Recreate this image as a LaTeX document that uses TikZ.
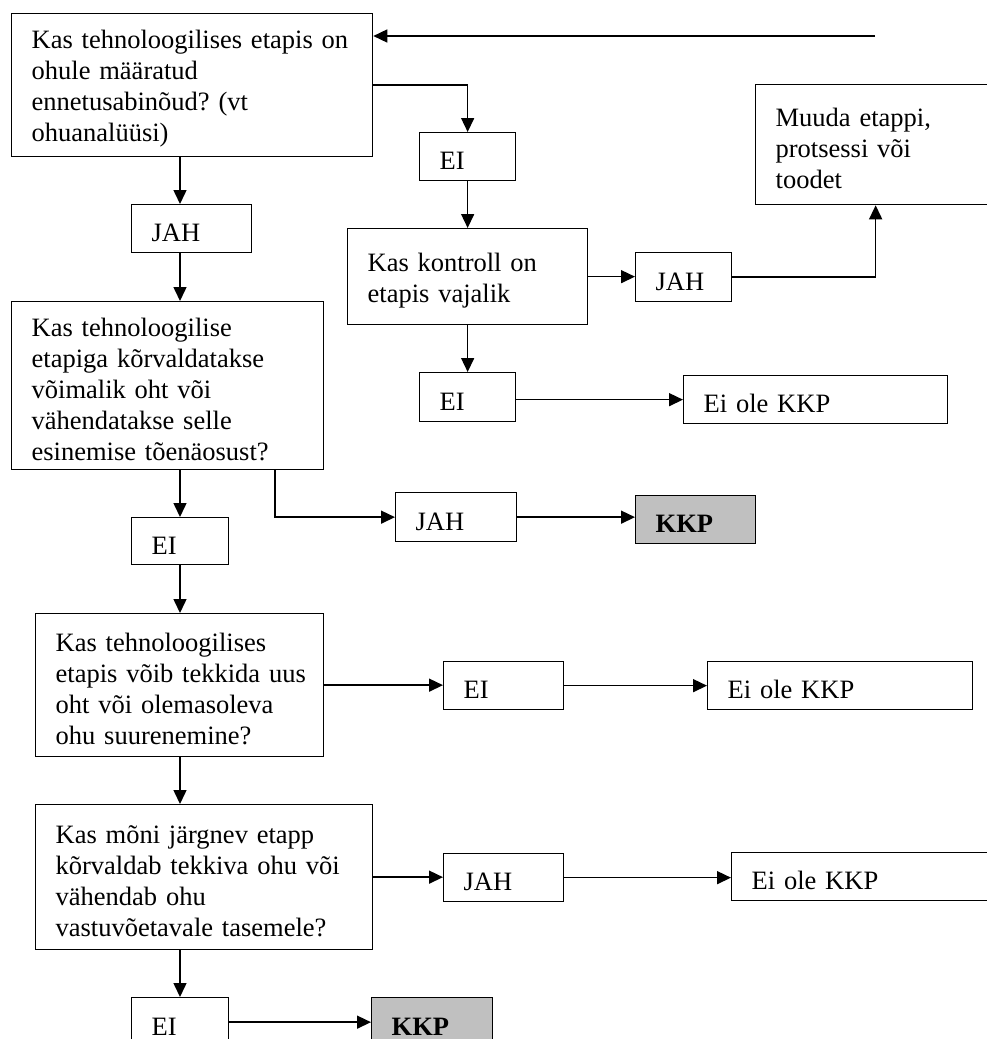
\documentclass[tikz,border=0pt]{standalone}
\usepackage{fontspec}
\setmainfont{Liberation Serif}
\usetikzlibrary{arrows.meta}
\definecolor{kkpgray}{HTML}{C0C0C0}
\frenchspacing
\begin{document}
\begin{tikzpicture}[x=1pt,y=-1pt,
  bx/.style={draw, line width=1.3pt, rectangle, anchor=north west,
    inner xsep=0pt, inner ysep=0pt, align=left,
    execute at begin node={\leftskip=20pt\relax\rule{0pt}{26pt}},
    font=\fontsize{26.5}{31}\selectfont},
  bw/.style 2 args={bx, text width=#1, minimum height=#2},
  kkp/.style={fill=kkpgray, font=\fontsize{26.5}{31}\selectfont\bfseries},
  arr/.style={line width=1.5pt, -{Triangle[length=14pt,width=13pt]}}
]
\useasboundingbox (0,0) rectangle (986,1039);

% left column
\node[bw={361pt}{143pt}] (A) at (11,13) {Kas tehnoloogilises etapis on\\ohule määratud\\ennetusabinõud? (vt\\ohuanalüüsi)};
\node[bw={120pt}{48pt}] (JAH0) at (131,204) {JAH};
\node[bw={312pt}{168pt}] (B) at (11,301) {Kas tehnoloogilise\\etapiga kõrvaldatakse\\võimalik oht või\\vähendatakse selle\\esinemise tõenäosust?};
\node[bw={97pt}{47pt}] (EI0) at (131,517) {EI};
\node[bw={288pt}{143pt}] (C) at (35,613) {Kas tehnoloogilises\\etapis võib tekkida uus\\oht või olemasoleva\\ohu suurenemine?};
\node[bw={337pt}{145pt}] (D) at (35,804) {Kas mõni järgnev etapp\\kõrvaldab tekkiva ohu või\\vähendab ohu\\vastuvõetavale tasemele?};
\node[bw={97pt}{49pt}] (EI4) at (131,997) {EI};
\node[bw={121pt}{49pt}, kkp] (KKP2) at (371,997) {KKP};

% middle / right
\node[bw={96pt}{48pt}] (EI1) at (419,132) {EI};
\node[bw={240pt}{96pt}] (K) at (347,228) {Kas kontroll on\\etapis vajalik};
\node[bw={96pt}{49pt}] (JAH1) at (635,252) {JAH};
\node[bw={240pt}{120pt}] (M) at (755,84) {Muuda etappi,\\protsessi või\\toodet};
\node[bw={96pt}{49pt}] (EI2) at (419,372) {EI};
\node[bw={264pt}{48pt}] (EO1) at (683,375) {Ei ole KKP};
\node[bw={121pt}{49pt}] (JAH2) at (395,492) {JAH};
\node[bw={120pt}{48pt}, kkp] (KKP1) at (635,495) {KKP};
\node[bw={120pt}{48pt}] (EI3) at (443,661) {EI};
\node[bw={265pt}{48pt}] (EO2) at (707,661) {Ei ole KKP};
\node[bw={120pt}{48pt}] (JAH3) at (443,853) {JAH};
\node[bw={265pt}{48pt}] (EO3) at (731,852) {Ei ole KKP};

\coordinate (colx) at (180,0);
\coordinate (bx) at (275,0);
\coordinate (topin) at (875,36);

% connectors
\draw[arr] (topin) -- (topin -| A.east);
\draw[arr] (A.east) -| (EI1.north);
\draw[arr] (EI1.south) -- (EI1.south |- K.north);
\draw[arr] (K.east) -- (K.east -| JAH1.west);
\draw[arr] (JAH1.east) -| (M.south);
\draw[arr] (K.south) -- (K.south |- EI2.north);
\draw[arr] (EO1.west -| EI2.east) -- (EO1.west);

\draw[arr] (A.south -| colx) -- (JAH0.north -| colx);
\draw[arr] (JAH0.south -| colx) -- (B.north -| colx);
\draw[arr] (B.south -| colx) -- (EI0.north -| colx);
\draw[arr] (B.south -| bx) |- (JAH2.west);
\draw[arr] (JAH2.east) -- (JAH2.east -| KKP1.west);
\draw[arr] (EI0.south -| colx) -- (C.north -| colx);
\draw[arr] (C.east) -- (C.east -| EI3.west);
\draw[arr] (EI3.east) -- (EI3.east -| EO2.west);
\draw[arr] (C.south -| colx) -- (D.north -| colx);
\draw[arr] (D.east) -- (D.east -| JAH3.west);
\draw[arr] (JAH3.east) -- (JAH3.east -| EO3.west);
\draw[arr] (D.south -| colx) -- (EI4.north -| colx);
\draw[arr] (EI4.east) -- (EI4.east -| KKP2.west);
\end{tikzpicture}
\end{document}
